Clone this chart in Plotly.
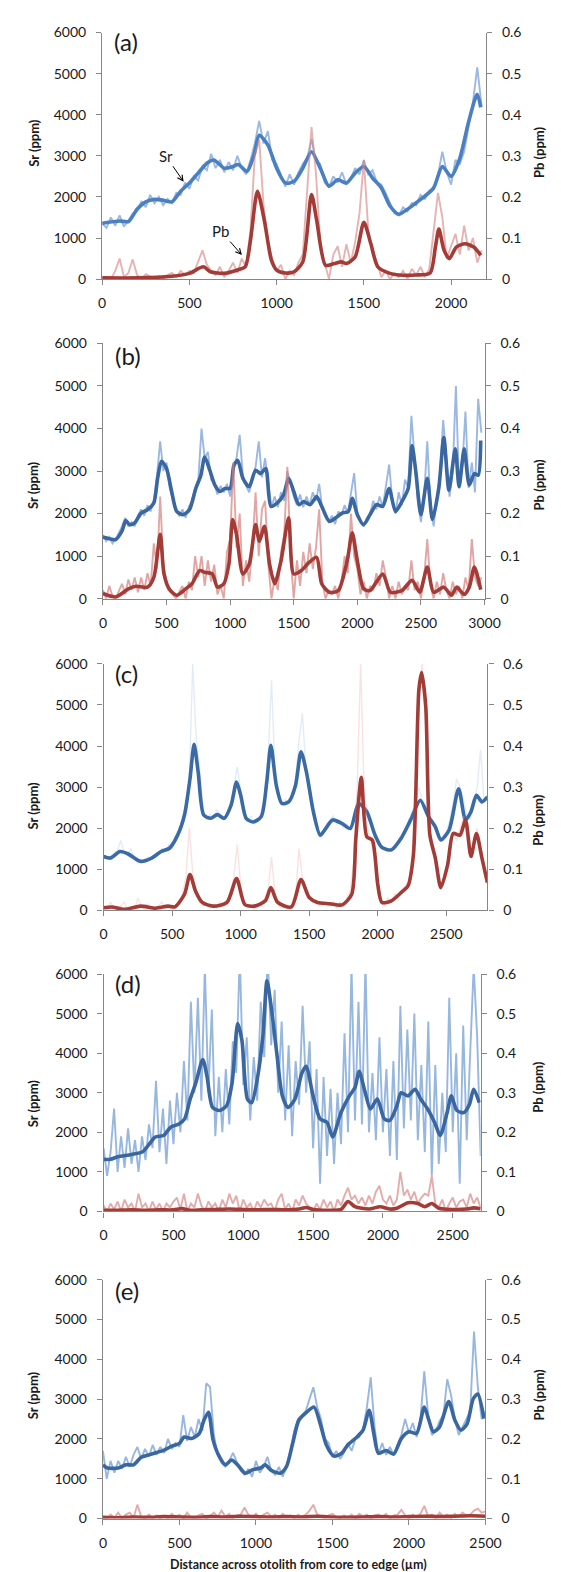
import plotly.graph_objects as go

W, H = 561, 1572
FONT = "Lato"
GREY = "#868686"
TXT = "#1a1a1a"

# ---------------- DATA ----------------
STEP_RAW = 25  # raw sampling step (um)

# Panel (a)
a_sr_raw = [1350,1250,1500,1300,1550,1280,1420,1600,1650,1900,
            1750,2050,1850,2000,1800,1950,1850,2100,2050,2350,
            2200,2500,2400,2750,2650,3050,2700,2900,2600,2850,
            2650,3000,2700,2550,2900,3300,3850,3300,3600,2900,
            2800,2500,2250,2550,2300,2600,2800,2950,3400,2900,
            2800,2350,2250,2500,2350,2600,2300,2450,2700,2550,
            2900,2550,2650,2350,2300,2100,1850,1600,1550,1750,
            1650,1850,1800,2050,1950,2150,2200,2550,3100,2600,
            2300,2900,2800,3100,3700,4300,5150,4200]
a_pb_raw = [0.0,0.005,0.0,0.02,0.05,0.005,0.015,0.048,0.01,0.0,
            0.012,0.005,0.0,0.008,0.0,0.01,0.015,0.005,0.02,0.01,
            0.02,0.015,0.045,0.07,0.035,0.02,0.01,0.03,0.005,0.02,
            0.04,0.015,0.05,0.03,0.12,0.3,0.34,0.18,0.09,0.05,
            0.02,0.035,0.0,0.02,0.01,0.04,0.06,0.22,0.37,0.26,
            0.09,0.04,0.0,0.06,0.08,0.03,0.085,0.04,0.09,0.16,
            0.29,0.12,0.07,0.04,0.005,0.02,0.0,0.015,0.005,0.02,
            0.0,0.025,0.01,0.03,0.005,0.025,0.12,0.21,0.15,0.05,
            0.08,0.11,0.06,0.13,0.07,0.1,0.04,0.07]
a_sr_sm_x = [0,100,150,200,250,300,350,400,450,500,550,600,640,700,750,780,830,870,900,950,
             1000,1050,1100,1150,1200,1250,1300,1350,1400,1450,1500,1550,1600,1650,1700,1750,
             1800,1850,1900,1950,2000,2050,2100,2150,2170]
a_sr_sm = [1360,1416,1400,1700,1880,1940,1920,1880,2140,2340,2580,2820,2900,2700,2740,2790,2620,3020,3500,3260,
           2700,2340,2380,2700,3100,2700,2260,2420,2340,2580,2740,2460,2220,1780,1580,1700,
           1860,2020,2220,2740,2500,2940,3820,4500,4180]
a_pb_sm_x = [0,200,400,500,580,620,700,780,820,850,890,930,970,1000,1050,1100,1150,1200,1230,1280,
             1330,1370,1400,1450,1500,1540,1580,1650,1700,1800,1880,1910,1930,1960,1990,2030,2080,2130,2170]
a_pb_sm = [0.003,0.003,0.007,0.014,0.03,0.018,0.014,0.023,0.03,0.094,0.214,0.142,0.046,0.022,0.015,0.018,0.042,0.206,0.142,0.034,
           0.038,0.042,0.038,0.054,0.138,0.086,0.03,0.014,0.01,0.01,0.015,0.078,0.122,0.07,0.05,0.078,0.086,0.078,0.058]

# Panel (b)
b_sr_raw = [1500,1350,1450,1300,1400,1550,1700,1900,1700,1800,
            1700,1950,2100,1950,2200,2050,2300,2900,3700,3000,
            3200,2600,2300,2050,1950,2100,1900,2150,2300,2600,
            2800,4000,3300,3450,2800,2700,2450,2650,2500,2700,
            2400,3000,3300,3850,2900,2650,2500,2800,3100,3700,
            2850,3300,2700,2150,2400,2150,2500,2300,3000,2700,
            2400,2200,2450,2150,2400,2200,2500,2300,2700,2100,
            1900,1800,1950,1750,2050,1950,2200,2000,2500,2950,
            2000,1800,1700,1900,2000,2300,2100,2400,2150,2700,
            3150,2300,2000,2500,2200,2800,2600,4300,3200,2300,
            1800,2400,3700,2200,1700,2400,2900,4200,3300,2400,
            3000,5000,2600,3100,4400,2600,3200,2500,4700,3900]
b_pb_raw = [0.02,0.0,0.03,0.005,0.0,0.02,0.035,0.01,0.045,0.02,
            0.05,0.015,0.05,0.02,0.06,0.03,0.13,0.07,0.24,0.08,
            0.04,0.02,0.01,0.0,0.015,0.03,0.0,0.04,0.02,0.1,
            0.05,0.1,0.03,0.09,0.04,0.08,0.01,0.03,0.0,0.11,
            0.14,0.32,0.12,0.2,0.03,0.09,0.04,0.12,0.25,0.1,
            0.21,0.23,0.08,0.0,0.05,0.02,0.11,0.15,0.31,0.1,
            0.0,0.09,0.03,0.11,0.06,0.13,0.07,0.12,0.21,0.04,
            0.0,0.02,0.01,0.03,0.0,0.04,0.1,0.06,0.2,0.1,
            0.07,0.01,0.04,0.0,0.03,0.02,0.06,0.03,0.09,0.05,
            0.0,0.03,0.0,0.04,0.01,0.03,0.02,0.09,0.02,0.04,
            0.0,0.05,0.14,0.03,0.0,0.04,0.01,0.06,0.02,0.0,
            0.04,0.01,0.03,0.0,0.05,0.02,0.14,0.05,0.03,0.05]
b_sr_sm_x = [0,50,100,150,180,210,250,300,350,400,430,460,500,540,580,630,680,730,770,800,
             840,880,920,960,1000,1030,1060,1100,1150,1200,1240,1280,1320,1370,1420,1460,1500,1540,1580,1630,
             1680,1720,1780,1830,1880,1930,1960,2000,2050,2100,2150,2200,2250,2300,2350,2400,2430,2460,2500,2550,
             2590,2640,2680,2720,2770,2800,2840,2880,2920,2950,2970]
b_sr_sm = [1450,1410,1390,1590,1835,1740,1780,2010,2090,2250,2830,3230,3060,2520,2050,1975,2090,2590,2900,3330,
           3020,2670,2520,2590,2590,3140,3250,2830,2630,3020,2940,3060,2170,2250,2440,2830,2520,2210,2280,2210,
           2400,2170,1820,1900,2010,2050,2360,1975,1740,1975,2210,2170,2590,2050,2280,2590,3600,2980,1975,2830,
           1860,2590,3790,2550,3520,2630,3520,2670,2940,2900,3720]
b_pb_sm_x = [0,100,200,260,350,400,450,480,520,580,650,700,760,800,860,900,950,990,1020,1050,
             1100,1150,1200,1230,1270,1310,1350,1400,1460,1500,1560,1620,1680,1720,1780,1850,1920,1960,2000,2050,
             2100,2200,2260,2350,2430,2490,2550,2600,2680,2740,2780,2840,2880,2920,2970]
b_pb_sm = [0.012,0.004,0.023,0.029,0.027,0.05,0.151,0.058,0.023,0.008,0.023,0.035,0.066,0.062,0.058,0.027,0.035,0.081,0.186,0.151,
           0.058,0.081,0.174,0.135,0.17,0.081,0.035,0.089,0.19,0.058,0.066,0.085,0.097,0.035,0.015,0.019,0.089,0.155,0.089,0.023,
           0.019,0.058,0.015,0.019,0.043,0.015,0.074,0.015,0.027,0.008,0.027,0.01,0.027,0.074,0.021]

# Panel (c)
c_sr_raw = [1350,1250,1300,1400,1450,1700,1400,1350,1500,1250,
            1150,1250,1200,1300,1250,1350,1400,1500,1450,1600,
            1500,1800,1900,2200,2600,3200,6000,4200,3500,2500,
            2200,2350,2200,2450,2300,2200,2350,2500,3000,3500,
            2900,2400,2150,2300,2100,2200,2400,2800,3700,5600,
            3400,2800,2600,2700,2600,2800,3200,4100,4800,3500,
            2900,2400,2000,1800,1900,2100,2200,2300,2100,2200,
            2000,2100,1950,2200,2800,3000,2700,2500,2100,1800,
            1600,1550,1500,1450,1500,1600,1700,1850,2000,2200,
            2400,2600,3000,2700,2400,2200,2100,1900,1700,1800,
            1900,2200,2600,3200,3000,2700,2300,2200,2600,3000,
            3900,2700,2800]
c_pb_raw = [0.01,0.0,0.02,0.005,0.0,0.01,0.02,0.0,0.005,0.0,
            0.03,0.01,0.0,0.015,0.005,0.0,0.01,0.02,0.005,0.01,
            0.0,0.01,0.02,0.04,0.08,0.2,0.09,0.05,0.02,0.01,
            0.015,0.005,0.01,0.005,0.02,0.01,0.02,0.04,0.08,0.16,
            0.06,0.02,0.005,0.01,0.0,0.015,0.01,0.03,0.05,0.13,
            0.04,0.01,0.005,0.01,0.0,0.005,0.03,0.15,0.08,0.04,
            0.03,0.02,0.025,0.01,0.02,0.015,0.01,0.02,0.005,0.02,
            0.01,0.03,0.05,0.12,0.3,0.6,0.3,0.2,0.17,0.12,
            0.04,0.02,0.01,0.03,0.02,0.04,0.03,0.05,0.06,0.07,
            0.12,0.3,0.55,0.6,0.45,0.2,0.15,0.1,0.06,0.07,
            0.1,0.14,0.19,0.17,0.2,0.23,0.18,0.13,0.15,0.2,
            0.14,0.1,0.07]
c_sr_sm_x = [0,50,120,180,270,350,420,480,540,590,630,660,690,730,780,830,880,930,970,1000,
             1040,1090,1150,1190,1220,1260,1300,1350,1400,1440,1480,1530,1580,1620,1670,1740,1800,1860,1920,1980,
             2030,2100,2170,2240,2310,2370,2420,2460,2520,2590,2640,2680,2720,2760,2800]
c_sr_sm = [1310,1270,1430,1370,1190,1270,1430,1510,1830,2320,3200,4040,3360,2320,2240,2330,2240,2560,3120,2800,
           2240,2150,2280,3120,4020,3040,2600,2640,3040,3860,3360,2400,1830,1990,2200,2110,1990,2600,2400,1830,
           1530,1470,1750,2200,2680,2280,2030,1710,1950,2960,2200,2400,2800,2640,2760]
c_pb_sm_x = [0,60,150,270,380,470,520,590,630,670,720,800,900,970,1030,1100,1180,1220,1270,1370,
             1440,1500,1560,1650,1740,1810,1840,1880,1920,1960,2000,2030,2100,2170,2220,2260,2300,2320,2350,2380,
             2420,2460,2510,2550,2600,2640,2680,2720,2760,2800]
c_pb_sm = [0.006,0.008,0.002,0.01,0.005,0.01,0.008,0.039,0.087,0.047,0.019,0.01,0.019,0.077,0.014,0.01,0.023,0.055,0.019,0.008,
           0.075,0.031,0.019,0.016,0.013,0.039,0.175,0.324,0.179,0.171,0.063,0.019,0.023,0.043,0.059,0.135,0.537,0.579,0.497,0.183,
           0.127,0.055,0.111,0.187,0.183,0.22,0.131,0.187,0.127,0.067]

# Panel (d)
d_sr_raw = [1600,900,1500,2600,1000,1900,1100,2100,1200,1800,
            1000,1900,1300,2200,1600,3300,1500,2600,1200,2800,
            1700,3000,2000,3800,2300,5300,3000,5400,2800,6200,
            3000,5100,1900,3400,2000,3600,2200,4300,3500,6500,
            3200,4400,2300,3900,2800,5300,3900,6500,4200,5600,
            3000,4800,2300,4200,1900,3800,2700,5200,3000,4300,
            1600,3600,700,3400,1400,3100,1200,3000,1700,4500,
            2000,6200,2300,5300,2200,6300,2000,3500,1800,4400,
            2000,3600,1400,3800,1300,5200,2100,4600,2300,5000,
            1800,3700,1500,4800,900,3700,1200,3000,1500,5400,
            2000,4000,700,4700,1800,3900,6200,4400,1400]
d_pb_raw = [0.015,0.0,0.02,0.005,0.025,0.0,0.03,0.01,0.02,0.0,
            0.045,0.01,0.02,0.0,0.025,0.005,0.02,0.0,0.02,0.01,
            0.025,0.035,0.005,0.045,0.0,0.02,0.01,0.045,0.015,0.0,
            0.025,0.01,0.02,0.0,0.03,0.01,0.045,0.02,0.04,0.0,
            0.03,0.01,0.02,0.0,0.025,0.01,0.03,0.015,0.02,0.0,
            0.03,0.045,0.005,0.02,0.0,0.03,0.015,0.04,0.02,0.01,
            0.0,0.02,0.005,0.03,0.01,0.025,0.0,0.03,0.015,0.04,
            0.06,0.03,0.04,0.02,0.035,0.015,0.04,0.02,0.05,0.065,
            0.03,0.02,0.04,0.015,0.03,0.1,0.04,0.055,0.03,0.05,
            0.02,0.035,0.045,0.04,0.09,0.02,0.01,0.03,0.0,0.02,
            0.035,0.01,0.025,0.03,0.01,0.045,0.02,0.035,0.01]
d_sr_sm_x = [0,50,100,200,280,320,370,430,480,540,580,620,660,710,740,780,830,880,920,960,
             990,1030,1060,1100,1140,1170,1200,1240,1280,1320,1370,1420,1450,1500,1550,1600,1640,1700,1760,1800,
             1830,1870,1910,1960,2010,2050,2100,2130,2180,2230,2270,2320,2370,2410,2460,2490,2530,2580,2620,2650,2690]
d_sr_sm = [1315,1320,1380,1440,1510,1670,1880,1920,2130,2210,2340,2840,3250,3840,3420,2630,2550,2670,3250,4750,
           4330,2840,2750,3340,4420,5830,5170,4000,2920,2630,2840,3500,3670,2920,2340,2250,1880,2500,2920,3130,
           3540,3050,2590,2840,2340,2300,2670,3000,2920,3090,2840,2590,2250,1920,2500,2920,2550,2500,2710,3090,2750]
d_pb_sm_x = [0,100,200,300,400,500,560,620,700,800,900,1000,1100,1200,1300,1400,1450,1500,1600,1700,
             1750,1800,1900,1980,2050,2100,2180,2250,2300,2350,2400,2500,2600,2650,2700]
d_pb_sm = [0.003,0.003,0.004,0.003,0.004,0.004,0.007,0.003,0.004,0.005,0.006,0.005,0.004,0.005,0.004,0.006,0.01,0.005,0.003,0.005,
           0.025,0.012,0.006,0.012,0.006,0.008,0.022,0.02,0.012,0.02,0.008,0.005,0.006,0.009,0.007]

# Panel (e)
e_sr_raw = [1700,1000,1450,1150,1450,1250,1550,1300,1600,1800,
            1500,1750,1550,1850,1600,1800,1650,2000,1750,1900,
            1800,2600,1950,2300,2050,2500,2200,3400,3300,2100,
            1600,1400,1300,1450,1650,1400,1200,1100,1250,1050,
            1450,1150,1300,1550,1200,1100,1300,1050,1300,1700,
            2200,2500,2600,2700,3000,3300,2800,2500,2000,1900,
            1550,1700,1500,1650,1900,1700,2000,2050,2250,2800,
            3550,2300,1600,1900,1600,1800,1600,1850,2100,2500,
            2150,2400,2050,2500,3700,2600,2100,2200,2450,2600,
            3500,3100,2500,2100,2300,2500,2700,4700,3300,2500,2700]
e_pb_raw = [0.005,0.0,0.01,0.003,0.015,0.0,0.01,0.015,0.002,0.035,
            0.005,0.0,0.01,0.002,0.008,0.0,0.005,0.0,0.012,0.004,
            0.01,0.0,0.015,0.003,0.0,0.008,0.012,0.0,0.006,0.015,
            0.004,0.02,0.005,0.012,0.0,0.008,0.01,0.028,0.01,0.002,
            0.012,0.0,0.01,0.015,0.005,0.01,0.0,0.012,0.003,0.008,
            0.0,0.01,0.005,0.01,0.02,0.035,0.01,0.005,0.0,0.008,
            0.012,0.004,0.0,0.008,0.003,0.01,0.0,0.012,0.005,0.01,
            0.0,0.008,0.01,0.004,0.012,0.0,0.008,0.01,0.022,0.008,
            0.0,0.01,0.004,0.012,0.032,0.006,0.01,0.0,0.015,0.005,
            0.01,0.0,0.012,0.004,0.015,0.008,0.01,0.02,0.025,0.015,0.018]
e_sr_sm_x = [0,30,100,150,200,250,300,350,400,450,500,530,580,630,660,690,720,760,800,840,
             880,930,980,1030,1060,1100,1160,1200,1240,1280,1330,1380,1420,1460,1510,1560,1600,1660,1700,1740,
             1770,1800,1850,1900,1950,2000,2050,2100,2130,2160,2200,2260,2300,2340,2380,2420,2450,2490]
e_sr_sm = [1350,1270,1270,1350,1350,1540,1600,1660,1720,1820,1890,2050,2010,2140,2470,2670,1970,1560,1350,1470,
           1350,1140,1230,1270,1350,1210,1140,1310,1890,2470,2670,2800,2380,1850,1570,1640,1850,2050,2220,2720,
           2140,1640,1710,1620,2010,2180,2140,2800,2470,2180,2300,2940,2470,2220,2380,3010,3130,2510]
e_pb_sm_x = [0,100,200,300,400,500,600,700,800,900,1000,1100,1200,1300,1400,1500,1600,1700,1800,1900,
             2000,2100,2200,2300,2400,2500]
e_pb_sm = [0.003,0.002,0.004,0.003,0.005,0.004,0.003,0.005,0.004,0.006,0.005,0.004,0.005,0.004,0.006,0.004,0.003,0.004,0.005,0.004,
           0.005,0.006,0.005,0.006,0.007,0.006]

LABELS = ["(a)", "(b)", "(c)", "(d)", "(e)"]
X_MAX = [2200, 3000, 2800, 2700, 2500]
SR_TICKS = [0, 1000, 2000, 3000, 4000, 5000, 6000]
PB_TICKS = [0, 0.1, 0.2, 0.3, 0.4, 0.5, 0.6]
PB_TICKTEXT = ["0", "0.1", "0.2", "0.3", "0.4", "0.5", "0.6"]

SERIES = [
    (a_sr_raw, a_pb_raw, a_sr_sm_x, a_sr_sm, a_pb_sm_x, a_pb_sm),
    (b_sr_raw, b_pb_raw, b_sr_sm_x, b_sr_sm, b_pb_sm_x, b_pb_sm),
    (c_sr_raw, c_pb_raw, c_sr_sm_x, c_sr_sm, c_pb_sm_x, c_pb_sm),
    (d_sr_raw, d_pb_raw, d_sr_sm_x, d_sr_sm, d_pb_sm_x, d_pb_sm),
    (e_sr_raw, e_pb_raw, e_sr_sm_x, e_sr_sm, e_pb_sm_x, e_pb_sm),
]

# ---------------- GEOMETRY / STYLE (pixels) ----------------
GEOM = [
    dict(l=93.5, r=491.5, t=15.7, b=265.0, sr_ty=127, pb_ty=137, lab_dy=9),
    dict(l=94.3, r=490.0, t=330.0, b=588.0, sr_ty=473, pb_ty=473, lab_dy=12),
    dict(l=95.0, r=493.0, t=654.0, b=903.0, sr_ty=797, pb_ty=812, lab_dy=10),
    dict(l=95.0, r=486.0, t=967.5, b=1207.5, sr_ty=1098, pb_ty=1082, lab_dy=10),
    dict(l=94.3, r=491.0, t=1276.5, b=1518.0, sr_ty=1393, pb_ty=1393, lab_dy=11),
]
STYLE = [
    dict(sr_raw="rgba(120,160,215,0.75)", pb_raw="rgba(212,128,126,0.6)", sr_sm="#4A80C2", pb_sm="#A33B37", rw=1.9),
    dict(sr_raw="rgba(120,160,215,0.75)", pb_raw="rgba(212,128,126,0.7)", sr_sm="#3A67A0", pb_sm="#A33B37", rw=1.9),
    dict(sr_raw="rgba(150,185,228,0.28)", pb_raw="rgba(235,160,160,0.3)", sr_sm="#3A6BA5", pb_sm="#A33B37", rw=1.4),
    dict(sr_raw="rgba(125,165,215,0.8)", pb_raw="rgba(212,128,126,0.65)", sr_sm="#3A67A0", pb_sm="#A33B37", rw=1.9),
    dict(sr_raw="rgba(125,165,215,0.8)", pb_raw="rgba(212,128,126,0.65)", sr_sm="#3A67A0", pb_sm="#A33B37", rw=1.9),
]


def px_x(p):
    return p / W


def px_y(p):
    return 1 - p / H


def akey(ref):
    return ref[0] + "axis" + ref[1:]


fig = go.Figure()
layout = dict(width=W, height=H, margin=dict(l=0, r=0, t=0, b=0),
              paper_bgcolor="white", plot_bgcolor="rgba(0,0,0,0)",
              showlegend=False, annotations=[])

tickfont = dict(family=FONT, size=14, color=TXT)
common = dict(showline=True, linecolor=GREY, linewidth=1.3, ticks="outside", ticklen=5,
              tickwidth=1.2, tickcolor=GREY, showgrid=False, zeroline=False, tickfont=tickfont,
              fixedrange=True)

for i in range(5):
    g, st = GEOM[i], STYLE[i]
    sr_raw, pb_raw, sr_sx, sr_s, pb_sx, pb_s = SERIES[i]
    xr = "x" if i == 0 else f"x{i + 1}"
    yl = "y" if i == 0 else f"y{2 * i + 1}"
    yr = f"y{2 * i + 2}"

    raw_x_sr = [STEP_RAW * k for k in range(len(sr_raw))]
    raw_x_pb = [STEP_RAW * k for k in range(len(pb_raw))]

    fig.add_trace(go.Scatter(x=raw_x_sr, y=sr_raw, xaxis=xr, yaxis=yl, mode="lines",
                             line=dict(color=st["sr_raw"], width=st["rw"]), hoverinfo="skip"))
    fig.add_trace(go.Scatter(x=sr_sx, y=sr_s, xaxis=xr, yaxis=yl, mode="lines",
                             line=dict(color=st["sr_sm"], width=3.6, shape="spline", smoothing=0.7),
                             hoverinfo="skip"))
    fig.add_trace(go.Scatter(x=raw_x_pb, y=pb_raw, xaxis=xr, yaxis=yr, mode="lines",
                             line=dict(color=st["pb_raw"], width=st["rw"]), hoverinfo="skip"))
    fig.add_trace(go.Scatter(x=pb_sx, y=pb_s, xaxis=xr, yaxis=yr, mode="lines",
                             line=dict(color=st["pb_sm"], width=3.6, shape="spline", smoothing=0.7),
                             hoverinfo="skip"))

    layout[akey(xr)] = dict(common, domain=[px_x(g["l"]), px_x(g["r"])], anchor=yl,
                            range=[0, X_MAX[i]], tick0=0, dtick=500, ticklabelstandoff=6)
    layout[akey(yl)] = dict(common, domain=[px_y(g["b"]), px_y(g["t"])], anchor=xr, side="left",
                            range=[0, 6000], tickvals=SR_TICKS, ticklabelstandoff=7)
    layout[akey(yr)] = dict(common, overlaying=yl, anchor=xr, side="right",
                            range=[0, 0.6], tickvals=PB_TICKS, ticktext=PB_TICKTEXT,
                            ticklabelstandoff=7)

    # panel label
    layout["annotations"].append(dict(text=LABELS[i], xref="paper", yref="paper",
                                      x=px_x(g["l"] + 10), y=px_y(g["t"] + g["lab_dy"]),
                                      xanchor="left", yanchor="middle", showarrow=False,
                                      font=dict(family=FONT, size=24, color=TXT)))
    # axis titles
    layout["annotations"].append(dict(text="<b>Sr (ppm)</b>", xref="paper", yref="paper",
                                      x=px_x(22), y=px_y(g["sr_ty"]), textangle=-90,
                                      xanchor="center", yanchor="middle", showarrow=False,
                                      font=dict(family=FONT, size=13, color=TXT)))
    layout["annotations"].append(dict(text="<b>Pb (ppm)</b>", xref="paper", yref="paper",
                                      x=px_x(546), y=px_y(g["pb_ty"]), textangle=-90,
                                      xanchor="center", yanchor="middle", showarrow=False,
                                      font=dict(family=FONT, size=13, color=TXT)))

# x-axis title
layout["annotations"].append(dict(text="<b>Distance across otolith from core to edge (µm)</b>",
                                  xref="paper", yref="paper", x=px_x(297), y=px_y(1564),
                                  xanchor="center", yanchor="middle", showarrow=False,
                                  font=dict(family=FONT, size=12.5, color=TXT)))

# Sr / Pb pointer labels in panel (a)
layout["annotations"].append(dict(text="Sr", xref="x", yref="y", x=467, y=2370, ax=-18, ay=-26,
                                  showarrow=True, arrowhead=5, arrowsize=1.1, arrowwidth=1,
                                  arrowcolor="black", font=dict(family=FONT, size=15, color=TXT)))
layout["annotations"].append(dict(text="Pb", xref="x", yref="y", x=801, y=586, ax=-21, ay=-24,
                                  showarrow=True, arrowhead=5, arrowsize=1.1, arrowwidth=1,
                                  arrowcolor="black", font=dict(family=FONT, size=15, color=TXT)))

fig.update_layout(**layout)
fig.write_html("out.html")
